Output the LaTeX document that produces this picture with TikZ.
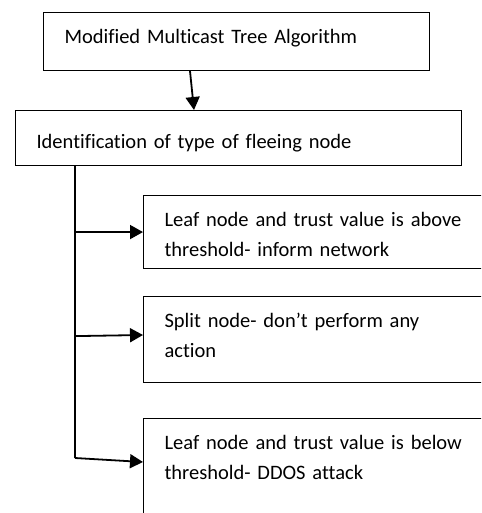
\documentclass[tikz,border=0pt]{standalone}
\usepackage{fontspec}
\setmainfont[Ligatures=NoCommon]{Carlito}
\usetikzlibrary{arrows.meta,calc}

\begin{document}
\begin{tikzpicture}[x=1pt,y=-1pt,
        font=\fontsize{20.5}{30}\selectfont,
        stepbox/.style={draw,line width=1.1pt,anchor=north west,align=left,
                        inner xsep=21pt,inner ysep=0pt,text height=31pt},
        conn/.style={line width=1.8pt},
        arrow/.style={conn,-{Triangle[length=13pt,width=14pt]}}
        ]
            \useasboundingbox (0,0) rectangle (481,513);
            \clip (0,0) rectangle (481,513);

            % Kaesten
            \node[stepbox, text width=344pt, text depth=27pt]
                (mmta) at (43,12) {Modified Multicast Tree Algorithm};
            \node[stepbox, text width=404pt, text height=38pt, text depth=17pt]
                (ident) at (15,110) {Identification of type of fleeing node};
            \node[stepbox, text width=360pt, text depth=42pt]
                (leafup) at (143,195) {Leaf node and trust value is above\\threshold- inform network};
            \node[stepbox, text width=360pt, text depth=55pt]
                (split) at (143,296) {Split node- don’t perform any\\action};
            \node[stepbox, text width=360pt, text depth=120pt]
                (leafdown) at (143,418) {Leaf node and trust value is below\\threshold- DDOS attack};

            % Verbindungen
            \coordinate (trunk) at ($(ident.south west)+(60,0)$);
            \coordinate (bend) at (75,458);
            \draw[arrow] ($(mmta.south west)+(147,0)$) -- ($(ident.north west)+(179,0)$);
            \draw[conn] (trunk) -- (bend);
            \draw[arrow] (trunk |- leafup.west) -- (leafup.west);
            \draw[arrow] ($(trunk)+(0,170)$) -- ($(split.north west)+(0,39)$);
            \draw[arrow] (bend) -- ($(leafdown.north west)+(0,44)$);
        \end{tikzpicture}
\end{document}
